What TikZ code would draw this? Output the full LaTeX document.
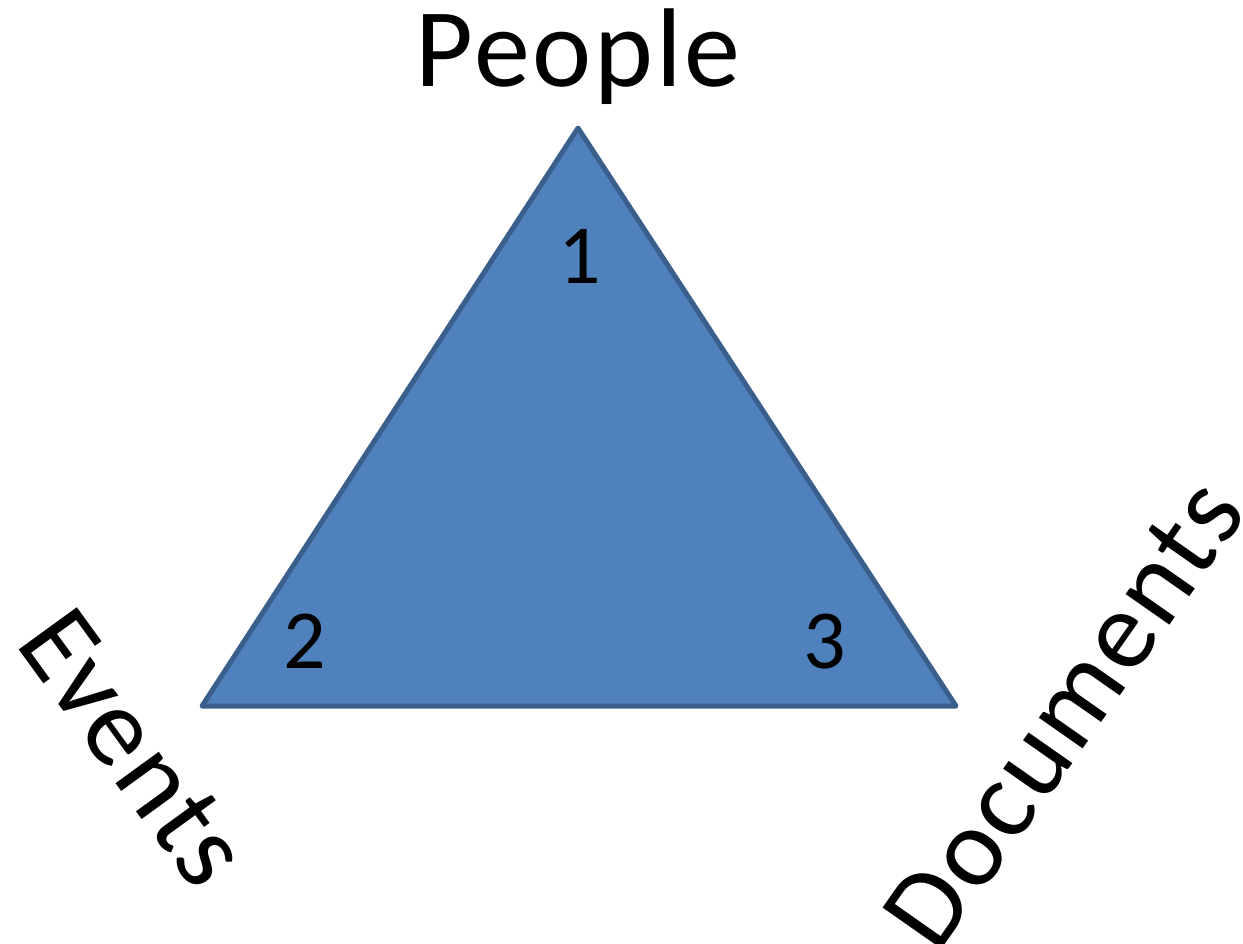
\documentclass[tikz,border=0pt]{standalone}
\usepackage{fontspec}
\setmainfont{Carlito}
\definecolor{triFill}{HTML}{4F81BD}
\definecolor{triLine}{HTML}{3A5F8C}
\begin{document}
\begin{tikzpicture}[x=1pt,y=-1pt,
  big/.style={font=\fontsize{112}{130}\selectfont\addfontfeature{LetterSpace=2.5}, inner sep=0pt},
  num/.style={font=\fontsize{84}{100}\selectfont, inner sep=0pt, anchor=base}]
\useasboundingbox (0,0) rectangle (1243,943);
\coordinate (A) at (578,128);
\coordinate (B) at (202,706);
\coordinate (C) at (956,706);
\draw[triLine, fill=triFill, line width=5pt, line join=round] (A) -- (B) -- (C) -- cycle;
\node[big, anchor=base] (people) at (578,86) {People};
\node[num] (n1) at (580,283) {1};
\node[num] (n2) at (305,668) {2};
\node[num] (n3) at (825,668) {3};
\node[big, rotate=-54] (events) at (134,748) {Events};
\node[big, rotate=55] (docs) at (1064,714) {Documents};
\end{tikzpicture}
\end{document}
